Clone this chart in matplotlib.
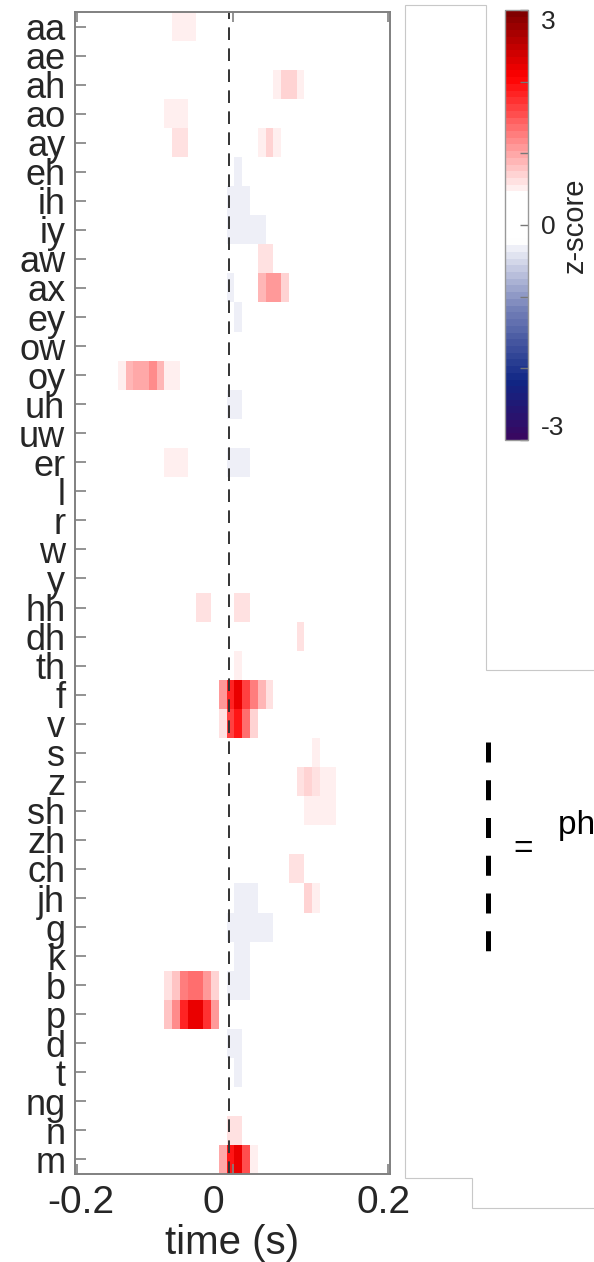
import numpy as np
import matplotlib
matplotlib.use('Agg')
import matplotlib.pyplot as plt
from matplotlib.colors import LinearSegmentedColormap, ListedColormap
from matplotlib.transforms import ScaledTranslation

# rows of the heat map, top to bottom
phonemes = ['aa', 'ae', 'ah', 'ao', 'ay', 'eh', 'ih', 'iy', 'aw', 'ax',
            'ey', 'ow', 'oy', 'uh', 'uw', 'er', 'l', 'r', 'w', 'y',
            'hh', 'dh', 'th', 'f', 'v', 's', 'z', 'sh', 'zh', 'ch',
            'jh', 'g', 'k', 'b', 'p', 'd', 't', 'ng', 'n', 'm']

# non-zero cells, stored as runs: phoneme, first 10 ms bin, z-scores
run_phone = ['aa', 'ah', 'ao', 'ay', 'ay', 'eh', 'ih', 'iy', 'aw', 'ax', 'ax',
             'ey', 'oy', 'uh', 'er', 'er', 'hh', 'hh', 'dh', 'th', 'f', 'v',
             's', 'z', 'sh', 'ch', 'jh', 'jh', 'g', 'k', 'b', 'b', 'p',
             'd', 't', 'n', 'm']
run_start = [-7, 6, -8, -7, 4, 1, 0, 0, 4, 0, 4,
             1, -14, 0, -8, 0, -4, 1, 9, 1, -1, -1,
             11, 9, 10, 8, 1, 10, 0, 1, -8, 0, -8,
             0, 1, 0, -1]
run_z = [[0.55, 0.55, 0.55],
         [0.56, 0.66, 0.66, 0.56],
         [0.55, 0.55, 0.55],
         [0.63, 0.63],
         [0.55, 0.66, 0.55],
         [-0.35],
         [-0.35, -0.35, -0.35],
         [-0.35, -0.35, -0.35, -0.35, -0.35],
         [0.58, 0.58],
         [-0.35],
         [0.92, 1.12, 1.12, 0.72],
         [-0.35],
         [0.56, 0.86, 0.98, 0.98, 1.18, 0.9, 0.56, 0.56],
         [-0.35, -0.35],
         [0.55, 0.55, 0.55],
         [-0.35, -0.35, -0.35],
         [0.58, 0.58],
         [0.58, 0.58],
         [0.58],
         [0.55],
         [1.12, 1.8, 2.2, 1.65, 1.25, 0.86, 0.62],
         [0.62, 1.65, 1.95, 1.32, 0.68],
         [0.55],
         [0.6, 0.68, 0.62, 0.55, 0.55],
         [0.56, 0.56, 0.56, 0.56],
         [0.58, 0.58],
         [-0.35, -0.35, -0.35],
         [0.66, 0.56],
         [-0.35, -0.35, -0.35, -0.35, -0.35, -0.35],
         [-0.35, -0.35],
         [0.6, 0.78, 1.25, 1.38, 1.32, 1.12, 0.72],
         [-0.35, -0.35, -0.35],
         [0.78, 1.18, 1.86, 2.2, 2.2, 1.72, 1.12],
         [-0.35, -0.35],
         [-0.35],
         [0.62, 0.62],
         [0.98, 1.95, 2.2, 1.58, 0.56]]

bin_width = 0.01
first_edge = -0.008      # left edge of bin 0 (s)
onset = -0.005           # phoneme onset marker (s)
xticks = [-0.2, 0, 0.2]
xtick_labels = ['-0.2', '0', '0.2']
xtick_shift = [3, -20, -5]   # label nudges in px, as in the original figure
cbar_ticks = [-3, -2, -1, 0, 1, 2, 3]
cbar_labels = ['-3', '', '', '0', '', '', '3']

plt.rcParams['font.family'] = ['Liberation Sans', 'DejaVu Sans']
text_col = '#262626'
axis_col = '#808080'

# matlab-like red/white/blue map with a white band round zero
nodes = [(0.0, (0.22, 0.03, 0.38)),
         (0.13, (0.06, 0.15, 0.52)),
         (0.30, (0.45, 0.50, 0.72)),
         (0.45, (0.955, 0.958, 0.98)),
         (0.46, (1.0, 1.0, 1.0)),
         (0.575, (1.0, 1.0, 1.0)),
         (0.585, (1.0, 0.95, 0.95)),
         (0.85, (1.0, 0.0, 0.0)),
         (1.0, (0.5, 0.0, 0.0))]
smooth = LinearSegmentedColormap.from_list('zmap', nodes)
cmap = ListedColormap(smooth(np.linspace(0, 1, 64)))

bins = np.arange(-21, 21)
grid = np.zeros((len(phonemes), len(bins)))
for ph, start, vals in zip(run_phone, run_start, run_z):
    r = phonemes.index(ph)
    for k, v in enumerate(vals):
        grid[r, start + k - bins[0]] = v
t_edges = first_edge + bin_width * np.arange(bins[0], bins[-1] + 2)
y_edges = np.arange(len(phonemes) + 1) - 0.5

W, H = 594, 1262
fig = plt.figure(figsize=(W / 100, H / 100), dpi=100)

ax = fig.add_axes([75 / W, 88 / H, 315 / W, 1162 / H])
mesh = ax.pcolormesh(t_edges, y_edges, grid, cmap=cmap, vmin=-3, vmax=3,
                     shading='flat', antialiased=False)
ax.axvline(onset, color='#333333', lw=1.4, dashes=(6.5, 4.3))
ax.set_xlim(-0.203, 0.202)
ax.set_ylim(len(phonemes) - 0.5, -0.5)
ax.set_yticks(range(len(phonemes)), phonemes)
ax.set_xticks(xticks, xtick_labels)
ax.tick_params(axis='y', direction='in', length=8, width=1.2, color=axis_col,
               labelsize=26, pad=7, labelcolor=text_col)
ax.tick_params(axis='x', direction='in', length=7, width=1.2, color=axis_col,
               labelsize=28, pad=8, top=True, labelcolor=text_col)
for lab, dx in zip(ax.get_xticklabels(), xtick_shift):
    lab.set_transform(lab.get_transform() +
                      ScaledTranslation(dx / 100, 0, fig.dpi_scale_trans))
for s in ax.spines.values():
    s.set_color(axis_col)
    s.set_linewidth(1.4)
ax.set_xlabel('time (s)', fontsize=29, labelpad=2, color=text_col)

cax = fig.add_axes([505 / W, (H - 440) / H, 23 / W, 430 / H])
cb = fig.colorbar(mesh, cax=cax, ticks=cbar_ticks)
cb.set_ticklabels(cbar_labels)
cb.ax.tick_params(direction='in', length=6, width=1, color='#777777',
                  labelsize=19, pad=9, labelcolor=text_col)
cb.outline.set_edgecolor('#999999')
cb.outline.set_linewidth(1)
cb.set_label('z-score', fontsize=21, labelpad=-2, color=text_col)
lab = cb.ax.get_yticklabels()
lab[0].set_va('bottom')
lab[-1].set_va('top')

# pixel-space overlay for panel frames and the legend
ov = fig.add_axes([0, 0, 1, 1])
ov.set_xlim(0, W)
ov.set_ylim(H, 0)
ov.axis('off')
frame_col = '#c8c8c8'
ov.plot([594, 486, 486, 405, 405, 472, 472, 594],
        [670, 670, 5, 5, 1178, 1178, 1208, 1208],
        color=frame_col, lw=0.8, solid_joinstyle='miter')
ov.plot([488, 488], [742, 951], color='black', lw=3.6, dashes=(4.0, 3.55),
        solid_capstyle='butt', dash_capstyle='butt')
ov.text(523, 849, '=', fontsize=24, ha='center', va='center', color='black')
ov.text(558, 834, 'phoneme onset', fontsize=24, ha='left', va='baseline',
        color='black')

fig.savefig('out.png', dpi=100)
